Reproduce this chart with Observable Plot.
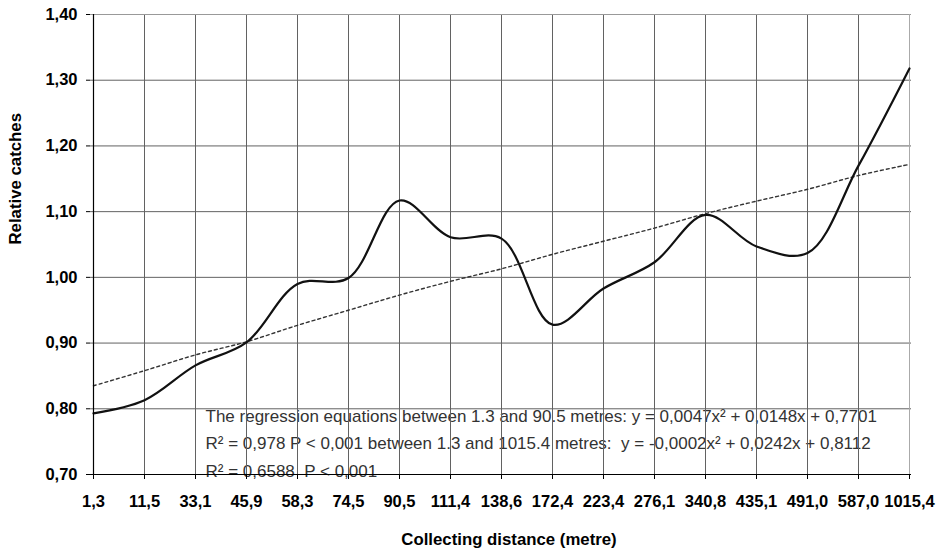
<!DOCTYPE html>
<html>
<head>
<meta charset="utf-8">
<script src="https://cdn.jsdelivr.net/npm/d3@7"></script>
<script src="https://cdn.jsdelivr.net/npm/@observablehq/plot@0.6"></script>
<style>
  html, body { margin: 0; padding: 0; background: #fff; }
  svg text { white-space: pre; }
</style>
</head>
<body>
<div id="chart"></div>
<script>
// Collecting distance classes (metre), as printed on the axis
const distances = ["1,3", "11,5", "33,1", "45,9", "58,3", "74,5", "90,5", "111,4", "138,6",
  "172,4", "223,4", "276,1", "340,8", "435,1", "491,0", "587,0", "1015,4"];

// Relative catches in each distance class
const catches = [0.793, 0.813, 0.866, 0.901, 0.990, 0.999, 1.117, 1.061, 1.059,
  0.928, 0.983, 1.023, 1.095, 1.047, 1.037, 1.170, 1.318];

// Fitted regression curve over all classes
const trend = [0.835, 0.858, 0.882, 0.902, 0.927, 0.950, 0.973, 0.994, 1.013,
  1.035, 1.055, 1.075, 1.097, 1.116, 1.134, 1.155, 1.172];

const yTicks = [0.7, 0.8, 0.9, 1.0, 1.1, 1.2, 1.3, 1.4];

const xTitle = "Collecting distance (metre)";
const yTitle = "Relative catches";
const notes = [
  "The regression equations between 1.3 and 90.5 metres: y = 0,0047x² + 0,0148x + 0,7701",
  "R² = 0,978 P < 0,001 between 1.3 and 1015.4 metres:  y = -0,0002x² + 0,0242x + 0,8112",
  "R² = 0,6588  P < 0,001"
];

const rows = distances.map((d, i) => ({distance: d, catches: catches[i], trend: trend[i]}));
const comma = (v) => v.toFixed(2).replace(".", ",");
const font = "'Liberation Sans', Arial, Helvetica, sans-serif";

const chart = Plot.plot({
  width: 943,
  height: 550,
  marginLeft: 90,
  marginRight: 32,
  marginTop: 14,
  marginBottom: 76,
  style: {fontFamily: font, background: "#fff", color: "#000"},
  x: {type: "point", domain: distances, padding: 0},
  y: {domain: [0.7, 1.4]},
  marks: [
    // regression notes, printed inside the plot area
    Plot.text([notes[0]], {frameAnchor: "bottom-left", textAnchor: "start", lineAnchor: "middle",
      dx: 115, dy: -58, fontSize: 17, fill: "#333"}),
    Plot.text([notes[1]], {frameAnchor: "bottom-left", textAnchor: "start", lineAnchor: "middle",
      dx: 115, dy: -30.5, fontSize: 17, fill: "#333"}),
    Plot.text([notes[2]], {frameAnchor: "bottom-left", textAnchor: "start", lineAnchor: "middle",
      dx: 115, dy: -3, fontSize: 17, fill: "#333"}),

    // grid
    Plot.ruleX(distances.slice(1, -1), {stroke: "#626262", strokeWidth: 1}),
    Plot.ruleY(yTicks.slice(1, -1), {stroke: "#626262", strokeWidth: 1}),
    Plot.ruleY(yTicks.slice(-1), {stroke: "#999", strokeWidth: 1}),
    Plot.ruleX(distances.slice(-1), {stroke: "#aaa", strokeWidth: 1}),

    // trend curve
    Plot.line(rows, {x: "distance", y: "trend", stroke: "#333", strokeWidth: 1.4,
      strokeDasharray: "3,3", curve: "catmull-rom"}),

    // observed relative catches
    Plot.line(rows, {x: "distance", y: "catches", stroke: "#111", strokeWidth: 2.2,
      curve: "catmull-rom"}),

    // axes
    Plot.ruleX(distances.slice(0, 1), {stroke: "#000", strokeWidth: 1.2}),
    Plot.ruleY(yTicks.slice(0, 1), {stroke: "#000", strokeWidth: 1.2}),
    Plot.axisY(yTicks, {tickFormat: comma, tickSize: 4, tickPadding: 9, fontSize: 16.5,
      fontWeight: "bold", label: null, stroke: "#000"}),
    Plot.axisX({tickSize: 5, tickPadding: 16, fontSize: 16.5, fontWeight: "bold",
      label: null, stroke: "#000"}),

    // axis titles
    Plot.text([xTitle], {frameAnchor: "bottom", dy: 65, lineAnchor: "middle", fontSize: 16.8,
      fontWeight: "bold", dx: 8}),
    Plot.text([yTitle], {frameAnchor: "left", rotate: -90, dx: -75, lineAnchor: "middle",
      fontSize: 16.8, fontWeight: "bold"})
  ]
});

document.getElementById("chart").appendChild(chart);
</script>
</body>
</html>
